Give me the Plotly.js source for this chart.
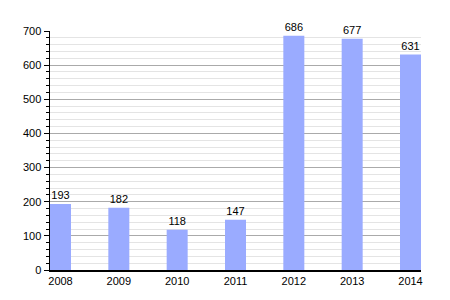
<!DOCTYPE html>
<html>
<head>
<script src="https://cdn.plot.ly/plotly-3.0.1.min.js"></script>
<style>html,body{margin:0;padding:0;background:#fff;}</style>
</head>
<body>
<div id="chart" style="width:450px;height:300px;"></div>
<script>
const years = ["2008", "2009", "2010", "2011", "2012", "2013", "2014"];
const values = [193, 182, 118, 147, 686, 677, 631];

Plotly.newPlot("chart", [{
  type: "bar",
  x: years,
  y: values,
  text: values.map(String),
  textposition: "outside",
  cliponaxis: false,
  textfont: {family: "Liberation Sans, Arial, sans-serif", size: 11, color: "#000"},
  marker: {color: "#9aabff"},
  width: 0.36,
  hoverinfo: "none"
}], {
  width: 450, height: 300,
  margin: {l: 50, r: 29, t: 31, b: 30},
  paper_bgcolor: "#fff", plot_bgcolor: "#fff",
  showlegend: false,
  font: {family: "Liberation Sans, Arial, sans-serif", size: 11, color: "#000"},
  xaxis: {
    type: "category",
    range: [-0.18, 6.18],
    showgrid: false,
    showline: true, linecolor: "#000", linewidth: 1.5,
    ticks: "", ticklen: 0,
    fixedrange: true
  },
  yaxis: {
    range: [0, 700],
    dtick: 100,
    showgrid: true, gridcolor: "#aaaaaa", gridwidth: 1,
    zeroline: false,
    showline: true, linecolor: "#000", linewidth: 1.5,
    ticks: "outside", ticklen: 5, tickcolor: "#000",
    minor: {dtick: 20, showgrid: true, gridcolor: "#e4e4e4", ticks: "outside", ticklen: 3, tickcolor: "#000"},
    fixedrange: true
  }
}, {staticPlot: true});
</script>
</body>
</html>
